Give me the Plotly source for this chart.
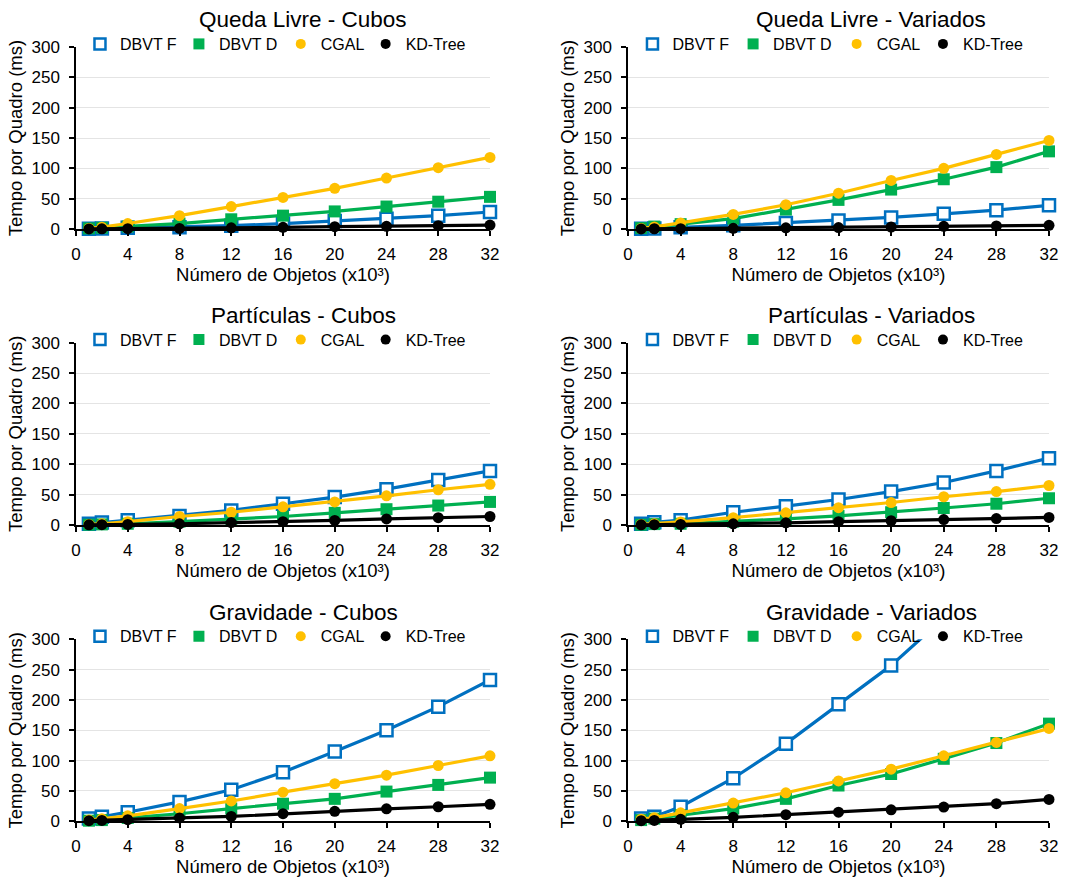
import plotly.graph_objects as go

# ---------------- data ----------------
X = [1, 2, 4, 8, 12, 16, 20, 24, 28, 32]
series_names = ["DBVT F", "DBVT D", "CGAL", "KD-Tree"]
titles = ["Queda Livre - Cubos", "Queda Livre - Variados",
          "Partículas - Cubos", "Partículas - Variados",
          "Gravidade - Cubos", "Gravidade - Variados"]
x_ticks = [0, 4, 8, 12, 16, 20, 24, 28, 32]
y_ticks = [0, 50, 100, 150, 200, 250, 300]

ql_cubos_dbvtf = [0.5, 1, 2, 3, 5.5, 9, 13, 17, 22, 28]
ql_cubos_dbvtd = [1, 2, 4, 9, 16, 22, 29, 37, 45, 53]
ql_cubos_cgal = [1, 3, 9, 22, 37, 52, 67, 84, 101, 118]
ql_cubos_kd = [0.2, 0.3, 0.5, 1, 2, 2.7, 3.8, 4.4, 5.5, 6.5]

ql_var_dbvtf = [0.5, 1, 2.7, 6, 10, 14, 19, 25, 31, 39]
ql_var_dbvtd = [1.5, 4, 8, 17, 32, 48, 65, 82, 102, 128]
ql_var_cgal = [1, 3.5, 10, 24, 40, 59, 80, 100, 123, 146]
ql_var_kd = [0.2, 0.4, 0.6, 1.1, 2, 2.3, 3.3, 4.4, 5, 6]

pa_cubos_dbvtf = [2, 4, 8, 15, 24, 35, 46, 59, 74, 89]
pa_cubos_dbvtd = [0.5, 1, 2, 5.5, 10, 14, 20, 26, 32, 38]
pa_cubos_cgal = [1, 2, 5.5, 14, 21, 30, 38, 48, 58, 67]
pa_cubos_kd = [0.3, 0.5, 1, 2, 4, 5.5, 7.5, 10, 12, 14]

pa_var_dbvtf = [2, 4.5, 8, 21, 31, 42, 55, 70, 89, 110]
pa_var_dbvtd = [0.5, 1.5, 2, 5.5, 10, 15, 21, 28, 35, 44]
pa_var_cgal = [1, 2, 5, 12, 20, 28.5, 37, 46.5, 55, 65]
pa_var_kd = [0.3, 0.5, 1, 2, 3.5, 5.5, 7, 9, 10.5, 12.5]

gr_cubos_dbvtf = [4.5, 7.5, 15, 32, 52, 81, 115, 150, 189, 233]
gr_cubos_dbvtd = [1, 2, 5.5, 12.5, 21, 29, 37, 49, 60, 72]
gr_cubos_cgal = [2, 4, 9, 21, 33.5, 48, 62, 76, 92, 108]
gr_cubos_kd = [1, 1.5, 2.7, 5.5, 8, 12.5, 16.5, 20.5, 24, 28]

gr_var_dbvtf = [4.5, 7.5, 24, 71, 128, 193, 257, 335, 415, 500]
gr_var_dbvtd = [2, 4.5, 10, 21, 37, 59, 78, 103, 129, 161]
gr_var_cgal = [3.5, 6, 14, 30, 47, 66.5, 86, 108, 130, 153]
gr_var_kd = [1, 1.5, 3.3, 6.5, 11, 15, 19, 23.5, 29, 36]

panels = [
    [ql_cubos_dbvtf, ql_cubos_dbvtd, ql_cubos_cgal, ql_cubos_kd],
    [ql_var_dbvtf, ql_var_dbvtd, ql_var_cgal, ql_var_kd],
    [pa_cubos_dbvtf, pa_cubos_dbvtd, pa_cubos_cgal, pa_cubos_kd],
    [pa_var_dbvtf, pa_var_dbvtd, pa_var_cgal, pa_var_kd],
    [gr_cubos_dbvtf, gr_cubos_dbvtd, gr_cubos_cgal, gr_cubos_kd],
    [gr_var_dbvtf, gr_var_dbvtd, gr_var_cgal, gr_var_kd],
]

# ---------------- style ----------------
W, H = 1073, 878
FONT = "Arial, Liberation Sans, sans-serif"
colors = ["#0070C0", "#00B050", "#FFC000", "#000000"]

def marker_style(i, size):
    if i == 0:
        return dict(symbol="square", size=size, color="white",
                    line=dict(color=colors[0], width=2.5))
    if i == 1:
        return dict(symbol="square", size=size, color=colors[1])
    return dict(symbol="circle", size=size - 1, color=colors[i])

# pixel layout
col_x = [(76, 490), (628, 1049)]
row_y = [(47, 229), (342.7, 525), (639.3, 821.3)]
title_x = [303, 871]
legend_frac = [0.07, 0.309, 0.555, 0.76]

fig = go.Figure()
layout = dict(width=W, height=H,
              margin=dict(l=0, r=0, t=0, b=0, autoexpand=False),
              paper_bgcolor="white", plot_bgcolor="white",
              font=dict(family=FONT, color="#000000"), annotations=[])

for p in range(6):
    r, c = divmod(p, 2)
    k = p + 1
    xa = "x" if k == 1 else f"x{k}"
    ya = "y" if k == 1 else f"y{k}"
    x0, x1 = col_x[c]
    yt, yb = row_y[r]
    for i, vals in enumerate(panels[p]):
        fig.add_trace(go.Scatter(
            x=X, y=vals, mode="lines+markers", name=series_names[i],
            line=dict(color=colors[i], width=3.2),
            marker=marker_style(i, 12),
            cliponaxis=(p == 5 and i == 0),
            xaxis=xa, yaxis=ya, showlegend=False))
    for i in range(4):
        ln = p * 4 + i + 1
        lg = "legend" if ln == 1 else f"legend{ln}"
        fig.add_trace(go.Scatter(
            x=[None], y=[None], mode="markers", name=series_names[i],
            marker=marker_style(i, 11), xaxis=xa, yaxis=ya,
            legend=lg, showlegend=True))
        mx = x0 + legend_frac[i] * (x1 - x0)
        layout[lg] = dict(orientation="h", x=(mx - 25) / W, xanchor="left",
                          y=1 - (yt - 3) / H, yanchor="middle",
                          bgcolor="rgba(255,255,255,0)",
                          font=dict(size=16, family=FONT, color="#000000"),
                          itemwidth=30)
    axis_common = dict(showline=True, linecolor="black", linewidth=1.5,
                       ticks="outside", ticklen=5, tickcolor="black", tickwidth=1.5,
                       tickfont=dict(size=17, family=FONT, color="#000000"))
    layout["xaxis" if k == 1 else f"xaxis{k}"] = dict(
        domain=[x0 / W, x1 / W], range=[0, 32], tickvals=x_ticks,
        showgrid=False, zeroline=False, anchor=ya,
        title=dict(text="Número de Objetos (x10³)", font=dict(size=18.5, family=FONT),
                   standoff=2),
        ticklabelstandoff=4, **axis_common)
    layout["yaxis" if k == 1 else f"yaxis{k}"] = dict(
        domain=[1 - yb / H, 1 - yt / H], range=[0, 300], tickvals=y_ticks,
        showgrid=True, gridcolor="#E4E4E4", gridwidth=1, zeroline=False, anchor=xa,
        title=dict(text="Tempo por Quadro (ms)", font=dict(size=18.5, family=FONT),
                   standoff=4),
        ticklabelstandoff=6, **axis_common)
    layout["annotations"].append(dict(
        text=titles[p], x=title_x[c] / W, y=1 - (yt - 27) / H,
        xref="paper", yref="paper", xanchor="center", yanchor="middle",
        showarrow=False, font=dict(size=22.5, family=FONT, color="#000000")))

fig.update_layout(**layout)
fig.write_html("out.html")
